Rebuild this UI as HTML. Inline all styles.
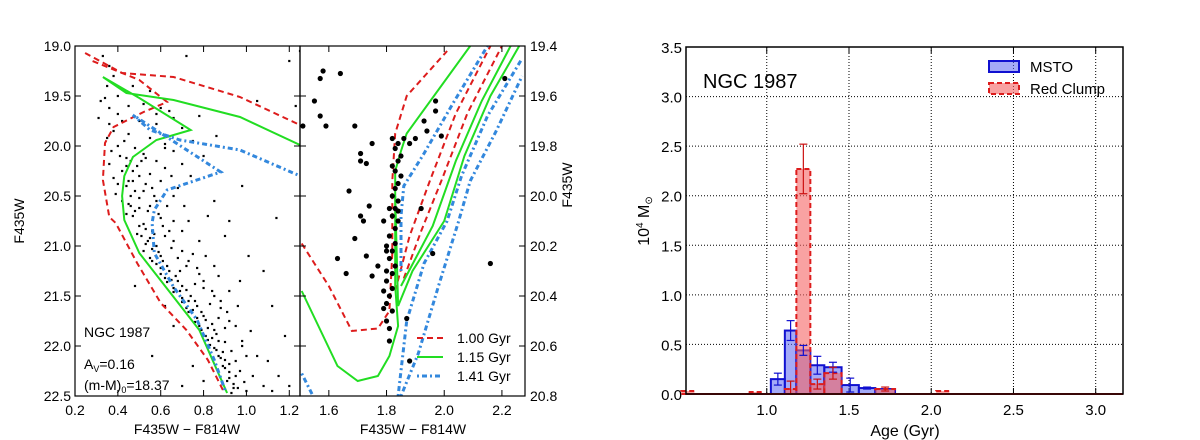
<!DOCTYPE html>
<html><head><meta charset="utf-8"><style>
body{margin:0;background:#fff;}
svg{display:block;font-family:"Liberation Sans","DejaVu Sans",sans-serif;}
</style></head><body>
<svg id="fig" width="1200" height="440" viewBox="0 0 1200 440" xmlns="http://www.w3.org/2000/svg"></svg>
<script>
// ---------- Panel 1 data (color, magnitude) ----------
const p1Red1=[[0.247,19.07],[0.42,19.27],[0.66,19.31],[0.97,19.51],[1.25,19.79]];
const p1Red2=[[0.89,22.44],[0.82,22.14],[0.72,21.84],[0.60,21.57],[0.49,21.17],[0.39,20.77],[0.36,20.71],[0.33,20.34],[0.34,19.97],[0.38,19.81],[0.52,19.66],[0.63,19.56],[0.50,19.34],[0.27,19.14]];
const p1Green=[[0.91,22.47],[0.78,21.84],[0.66,21.51],[0.50,21.07],[0.43,20.74],[0.42,20.5],[0.43,20.3],[0.47,20.11],[0.58,19.94],[0.74,19.84],[0.50,19.52],[0.33,19.31],[0.44,19.47],[0.66,19.54],[0.97,19.71],[1.25,19.99]];
const p1Blue=[[0.90,22.44],[0.85,22.14],[0.77,21.74],[0.66,21.41],[0.57,21.07],[0.56,20.77],[0.57,20.64],[0.63,20.44],[0.88,20.26],[0.47,19.69],[0.55,19.84],[0.69,19.94],[0.97,20.04],[1.24,20.29]];
const p1Stars=[[0.33,19.1],[0.36,19.2],[0.38,19.3],[0.34,19.52],[0.4,19.5],[0.45,19.6],[0.52,19.58],[0.36,19.62],[0.31,19.72],[0.42,19.75],[0.5,19.75],[0.58,19.78],[0.38,19.85],[0.45,19.88],[0.35,19.92],[0.55,19.92],[0.62,19.98],[0.4,20.0],[0.48,20.02],[0.37,20.05],[0.52,20.08],[0.66,20.05],[0.44,20.12],[0.58,20.15],[0.36,20.18],[0.49,20.2],[0.62,20.22],[0.42,20.25],[0.55,20.28],[0.38,20.32],[0.47,20.35],[0.6,20.35],[0.44,20.4],[0.52,20.45],[0.68,20.42],[0.39,20.48],[0.5,20.52],[0.58,20.55],[0.45,20.58],[0.63,20.6],[0.54,20.65],[0.47,20.7],[0.6,20.72],[0.52,20.78],[0.66,20.75],[0.56,20.85],[0.49,20.88],[0.62,20.9],[0.7,20.85],[0.54,20.95],[0.58,21.0],[0.65,21.02],[0.52,21.05],[0.6,21.1],[0.68,21.12],[0.75,21.08],[0.56,21.15],[0.63,21.2],[0.72,21.2],[0.6,21.28],[0.67,21.3],[0.78,21.28],[0.63,21.36],[0.7,21.4],[0.8,21.42],[0.66,21.46],[0.74,21.5],[0.85,21.5],[0.7,21.56],[0.77,21.6],[0.88,21.62],[0.73,21.66],[0.8,21.7],[0.76,21.76],[0.84,21.78],[0.92,21.75],[0.79,21.84],[0.86,21.88],[0.82,21.94],[0.9,21.96],[0.85,22.02],[0.93,22.05],[0.88,22.12],[0.95,22.15],[0.9,22.22],[0.97,22.25],[0.92,22.32],[0.99,22.36],[0.94,22.42],[1.0,22.45],[0.87,21.3],[0.92,21.45],[0.96,21.6],[1.02,21.85],[1.1,22.15],[1.15,22.3],[1.05,22.1],[0.74,20.3],[0.82,20.7],[0.9,20.9],[0.97,21.35],[1.08,21.25],[1.2,22.4],[1.12,22.45],[0.78,19.7],[0.86,19.9],[1.05,19.55],[1.2,19.15],[0.72,19.1],[0.98,20.4],[0.56,22.1],[0.7,22.4],[0.48,21.4],[0.62,20.02],[0.71,20.6],[0.81,21.1],[0.43,19.95],[0.53,20.38],[0.64,20.85],[0.69,21.25],[0.76,21.38],[0.83,21.58],[0.87,21.72],[0.9,21.82],
[0.5,20.8],[0.53,20.83],[0.51,20.9],[0.55,20.92],[0.57,20.88],[0.53,20.98],[0.56,21.03],[0.59,21.06],[0.55,21.12],[0.58,21.18],[0.61,21.15],[0.6,21.22],[0.64,21.25],[0.62,21.32],[0.65,21.34],[0.68,21.35],[0.66,21.42],[0.69,21.45],[0.72,21.44],[0.7,21.52],[0.73,21.55],[0.76,21.55],[0.72,21.62],[0.75,21.64],[0.79,21.66],[0.77,21.72],[0.81,21.74],[0.78,21.8],[0.82,21.82],[0.85,21.84],[0.81,21.9],[0.84,21.92],[0.87,21.95],[0.83,21.99],[0.86,22.04],[0.89,22.06],[0.87,22.1],[0.9,22.14],[0.92,22.18],[0.89,22.2],[0.92,22.26],[0.95,22.3],[0.91,22.35],[0.94,22.38],[0.96,22.42],[0.93,22.47],[0.46,20.6],[0.48,20.65],[0.44,20.68],[0.5,20.62],[0.46,20.5],[0.48,20.45],[0.45,20.35],[0.5,20.3],[0.47,20.25],[0.51,20.15],[0.46,20.15],[0.53,20.12],[0.41,20.1],[0.44,20.2],[0.4,20.38],[0.42,20.55],[0.56,20.42],[0.57,20.5],[0.55,20.6],[0.59,20.68],[0.61,20.8],[0.66,20.95],[0.7,21.05],[0.73,21.15],[0.77,21.22],[0.8,21.35],[0.84,21.45],[0.88,21.55],[0.91,21.66],[0.95,21.8],[0.98,21.95],[1.0,22.1],[1.03,22.3],[0.6,19.62],[0.66,19.72],[0.7,19.82],[0.75,19.95],[0.8,20.1],[0.85,20.55],[0.92,20.75],[1.01,21.1],[1.12,21.6],[1.18,21.9],[0.35,19.4],[0.32,19.55],[0.4,19.68],[0.36,19.78],[0.47,19.4],[0.55,19.45],[0.64,19.65],[0.58,19.68],[0.65,20.3],[0.7,20.18],[0.66,20.5],[0.73,20.75],[0.78,20.95],[0.85,21.2],[0.75,22.2],[0.8,22.35],[0.62,21.6],[0.66,21.8],[1.25,19.05],[1.23,19.6],[1.14,20.72],[0.98,22.0],[1.08,22.4]];
// ---------- Panel 2 data ----------
const p2Red1=[[1.506,20.19],[1.60,20.36],[1.68,20.54],[1.77,20.53],[1.81,20.46],[1.82,20.23],[1.82,19.94],[1.83,19.75],[1.87,19.60],[2.01,19.42]];
const p2Red2=[[1.83,20.38],[1.88,20.16],[1.95,19.94],[2.04,19.67],[2.16,19.40]];
const p2Red3=[[1.86,20.33],[1.92,20.14],[1.99,19.94],[2.08,19.67],[2.20,19.40]];
const p2Green1=[[1.506,20.38],[1.63,20.68],[1.70,20.74],[1.77,20.72],[1.81,20.64],[1.84,20.52],[1.83,20.36],[1.83,19.90],[1.85,19.82],[1.87,19.75],[2.09,19.40]];
const p2Green2=[[1.83,20.0],[1.84,20.44],[1.89,20.30],[2.0,20.10],[2.07,19.84],[2.16,19.60],[2.26,19.40]];
const p2Green3=[[1.85,20.36],[1.96,20.12],[2.04,19.86],[2.13,19.62],[2.23,19.40]];
const p2Blue1=[[1.506,20.71],[1.545,20.80]];
const p2Blue2=[[1.84,20.80],[1.87,20.5],[1.93,20.27],[2.01,20.10],[2.06,19.92],[2.15,19.68],[2.27,19.45]];
const p2Blue3=[[1.85,20.30],[1.85,20.08],[1.86,19.96],[1.93,19.83],[2.03,19.63],[2.15,19.40]];
const p2Blue4=[[1.85,20.80],[1.91,20.63],[1.98,20.36],[2.05,20.10],[2.09,19.94],[2.18,19.74],[2.27,19.52]];
const p2Stars=[[1.58,19.5],[1.57,19.53],[1.55,19.62],[1.64,19.51],[1.57,19.68],[1.59,19.72],[1.51,19.72],[1.69,19.72],[1.75,19.79],[1.71,19.83],[1.71,19.86],[1.73,19.87],[1.67,19.98],[1.74,20.04],[1.71,20.08],[1.72,20.1],[1.69,20.17],[1.63,20.25],[1.73,20.24],[1.66,20.31],[1.75,20.32],[1.77,20.28],[1.79,20.1],[1.8,20.22],[1.79,20.45],[1.81,20.58],[1.87,20.49],[1.92,20.05],[1.96,20.23],[2.16,20.27],[2.29,20.61],[2.21,19.53],[1.97,19.66],[1.97,19.62],[1.93,19.7],[1.99,19.76],[1.9,19.77],[1.86,19.77],[1.94,19.74],[1.88,19.79],[1.84,20.06],[1.88,20.66],
[1.82,19.77],[1.84,19.79],[1.83,19.81],[1.85,19.84],[1.84,19.86],[1.82,19.88],[1.83,19.9],[1.85,19.92],[1.84,19.95],[1.83,19.97],[1.82,20.0],[1.84,20.02],[1.83,20.05],[1.82,20.08],[1.84,20.1],[1.83,20.13],[1.81,20.16],[1.83,20.19],[1.82,20.22],[1.81,20.25],[1.83,20.28],[1.82,20.31],[1.8,20.34],[1.82,20.37],[1.81,20.4],[1.8,20.43],[1.82,20.46],[1.8,20.5],[1.81,20.53],[1.79,20.38],[1.8,20.3],[1.8,20.2],[1.81,20.05]];
// ---------- Histogram data ----------
const binEdges=[1.025,1.11,1.18,1.265,1.35,1.455,1.56,1.66,1.78];
const mstoVals=[0.15,0.64,0.44,0.29,0.27,0.09,0.06,0.05];
const mstoErr=[0.06,0.1,0.05,0.09,0.05,0.07,0.01,0.0];
const rcVals=[0.0,0.05,2.27,0.10,0.21,0.0,0.0,0.05];
const rcErr=[0.0,0.08,0.25,0.05,0.06,0.0,0.0,0.02];
const rcExtraAges=[0.52,0.93,2.07];
const rcExtraVals=[0.03,0.02,0.03];
const xTicksR=[1.0,1.5,2.0,2.5,3.0];
const yTicksR=[0.0,0.5,1.0,1.5,2.0,2.5,3.0,3.5];

const NS="http://www.w3.org/2000/svg";
const svg=document.getElementById('fig');
function mk(tag,attrs,parent){const e=document.createElementNS(NS,tag);for(const k in attrs)e.setAttribute(k,attrs[k]);(parent||svg).appendChild(e);return e;}
function txt(s,x,y,size,anchor,parent,extra){const t=mk('text',Object.assign({x:x,y:y,'font-size':size,'text-anchor':anchor||'middle',fill:'#000'},extra||{}),parent);t.textContent=s;return t;}
function scaler(d0,d1,p0,p1){return v=>p0+(v-d0)*(p1-p0)/(d1-d0);}

// ===== Panel 1 =====
const P1={x0:75,x1:300,y0:46,y1:396};
const sx1=scaler(0.2,1.25,P1.x0,P1.x1), sy1=scaler(19.0,22.5,P1.y0,P1.y1);
const g1=mk('g',{});


const cp1=mk('clipPath',{id:'c1'});mk('rect',{x:P1.x0,y:P1.y0,width:P1.x1-P1.x0,height:P1.y1-P1.y0},cp1);
const g1c=mk('g',{'clip-path':'url(#c1)'},g1);
p1Stars.forEach(p=>{const r=mk('rect',{x:sx1(p[0])-1.1,y:sy1(p[1])-1.1,width:2.2,height:2.2,fill:'#000'},g1c);

});
function iso(pts,sx,sy,style,parent,name){const d=pts.map((p,i)=>(i?'L':'M')+sx(p[0]).toFixed(1)+','+sy(p[1]).toFixed(1)).join('');
const e=mk('path',Object.assign({d:d,fill:'none'},style),parent);

return e;}
const RED={stroke:'#dd1c1c','stroke-width':2,'stroke-dasharray':'6,4'};
const GRN={stroke:'#22dd22','stroke-width':2};
const BLU={stroke:'#3388dd','stroke-width':3,'stroke-dasharray':'2,3,5,3'};
iso(p1Red1,sx1,sy1,RED,g1c,'isochrone-1.00-gyr');
iso(p1Red2,sx1,sy1,RED,g1c,'isochrone-1.00-gyr');
iso(p1Green,sx1,sy1,GRN,g1c,'isochrone-1.15-gyr');
iso(p1Blue,sx1,sy1,BLU,g1c,'isochrone-1.41-gyr');

// ===== Panel 2 =====
const P2={x0:300,x1:525,y0:46,y1:396};
const sx2=scaler(1.5,2.28,P2.x0,P2.x1), sy2=scaler(19.4,20.8,P2.y0,P2.y1);
const g2=mk('g',{});


const cp2=mk('clipPath',{id:'c2'});mk('rect',{x:P2.x0,y:P2.y0,width:P2.x1-P2.x0,height:P2.y1-P2.y0},cp2);
const g2c=mk('g',{'clip-path':'url(#c2)'},g2);
iso(p2Red1,sx2,sy2,RED,g2c,'isochrone-1.00-gyr');
iso(p2Red2,sx2,sy2,RED,g2c,'isochrone-1.00-gyr');
iso(p2Red3,sx2,sy2,RED,g2c,'isochrone-1.00-gyr');
iso(p2Green1,sx2,sy2,GRN,g2c,'isochrone-1.15-gyr');
iso(p2Green2,sx2,sy2,GRN,g2c,'isochrone-1.15-gyr');
iso(p2Green3,sx2,sy2,GRN,g2c,'isochrone-1.15-gyr');
iso(p2Blue1,sx2,sy2,BLU,g2c,'isochrone-1.41-gyr');
iso(p2Blue2,sx2,sy2,BLU,g2c,'isochrone-1.41-gyr');
iso(p2Blue3,sx2,sy2,BLU,g2c,'isochrone-1.41-gyr');
iso(p2Blue4,sx2,sy2,BLU,g2c,'isochrone-1.41-gyr');
p2Stars.forEach(p=>{const c=mk('circle',{cx:sx2(p[0]),cy:sy2(p[1]),r:2.6,fill:'#000'},g2c);

});

function frame(P,parent){mk('rect',{x:P.x0,y:P.y0,width:P.x1-P.x0,height:P.y1-P.y0,fill:'none',stroke:'#000','stroke-width':1.2},parent);}
frame(P1,g1);frame(P2,g2);
[0.2,0.4,0.6,0.8,1.0,1.2].forEach(v=>{const x=sx1(v);mk('line',{x1:x,x2:x,y1:P1.y1,y2:P1.y1-6,stroke:'#000'},g1);mk('line',{x1:x,x2:x,y1:P1.y0,y2:P1.y0+6,stroke:'#000'},g1);
const t=txt(v.toFixed(1),x,415,14,'middle',g1);});
[19.0,19.5,20.0,20.5,21.0,21.5,22.0,22.5].forEach(v=>{const y=sy1(v);mk('line',{x1:P1.x0,x2:P1.x0+6,y1:y,y2:y,stroke:'#000'},g1);mk('line',{x1:P1.x1,x2:P1.x1-6,y1:y,y2:y,stroke:'#000'},g1);
const t=txt(v.toFixed(1),71,y+5,14,'end',g1);});
[1.6,1.8,2.0,2.2].forEach(v=>{const x=sx2(v);mk('line',{x1:x,x2:x,y1:P2.y1,y2:P2.y1-6,stroke:'#000'},g2);mk('line',{x1:x,x2:x,y1:P2.y0,y2:P2.y0+6,stroke:'#000'},g2);
const t=txt(v.toFixed(1),x,415,14,'middle',g2);});
[19.4,19.6,19.8,20.0,20.2,20.4,20.6,20.8].forEach(v=>{const y=sy2(v);mk('line',{x1:P2.x0,x2:P2.x0+6,y1:y,y2:y,stroke:'#000'},g2);mk('line',{x1:P2.x1,x2:P2.x1-6,y1:y,y2:y,stroke:'#000'},g2);
const t=txt(v.toFixed(1),530,y+5,14,'start',g2);});
</script>
<script>
(function(){
const NS="http://www.w3.org/2000/svg",svg=document.getElementById('fig');
function t(s,x,y,size,anchor,rot,name){const e=document.createElementNS(NS,'text');e.setAttribute('x',x);e.setAttribute('y',y);e.setAttribute('font-size',size);e.setAttribute('text-anchor',anchor);if(rot)e.setAttribute('transform','rotate('+rot+' '+x+' '+y+')');e.innerHTML=s;

svg.appendChild(e);return e;}
t('F435W',24,221,14,'middle',-90,'y-axis-title-left');
t('F435W',572,185,14,'middle',-90,'y-axis-title-right');
t('F435W − F814W',187,434,14,'middle',0,'x-axis-title-left');
t('F435W − F814W',413,434,14,'middle',0,'x-axis-title-right');
t('NGC 1987',84,337,14,'start',0,'cluster-label');
t('A<tspan font-size="9" dy="3">V</tspan><tspan dy="-3">=0.16</tspan>',84,369,14,'start',0,'extinction-label');
t('(m-M)<tspan font-size="9" dy="3">0</tspan><tspan dy="-3">=18.37</tspan>',84,390,14,'start',0,'distance-modulus-label');
const leg=[['1.00 Gyr','#dd1c1c','6,4',2,338],['1.15 Gyr','#22dd22','',2,357],['1.41 Gyr','#3388dd','2,3,5,3',3,376]];
leg.forEach(l=>{const ln=document.createElementNS(NS,'line');ln.setAttribute('x1',417);ln.setAttribute('x2',443);ln.setAttribute('y1',l[4]);ln.setAttribute('y2',l[4]);ln.setAttribute('stroke',l[1]);ln.setAttribute('stroke-width',l[3]);if(l[2])ln.setAttribute('stroke-dasharray',l[2]);

svg.appendChild(ln);
t(l[0],457,l[4]+5,14,'start',0,'legend-entry');});
})();
</script>
<script>
(function(){
const NS="http://www.w3.org/2000/svg",svg=document.getElementById('fig');
function mk(tag,a,p){const e=document.createElementNS(NS,tag);for(const k in a)e.setAttribute(k,a[k]);(p||svg).appendChild(e);return e;}
const R={x0:686,x1:1123,y0:47,y1:394};
const sx=v=>R.x0+(v-0.509)*(R.x1-R.x0)/(3.166-0.509);
const sy=v=>R.y1-v*(R.y1-R.y0)/3.5;
const g=mk('g',{});


xTicksR.forEach(v=>{const x=sx(v);const l=mk('line',{x1:x,x2:x,y1:R.y0,y2:R.y1,stroke:'#000','stroke-width':1,'stroke-dasharray':'1,2'},g);


mk('line',{x1:x,x2:x,y1:R.y1,y2:R.y1-6,stroke:'#000'},g);mk('line',{x1:x,x2:x,y1:R.y0,y2:R.y0+6,stroke:'#000'},g);
const t=mk('text',{x:x,y:415,'font-size':15,'text-anchor':'middle'},g);t.textContent=v.toFixed(1);

});
yTicksR.forEach(v=>{const y=sy(v);const l=mk('line',{x1:R.x0,x2:R.x1,y1:y,y2:y,stroke:'#000','stroke-width':1,'stroke-dasharray':'1,2'},g);


const t=mk('text',{x:682,y:y+6,'font-size':15,'text-anchor':'end'},g);t.textContent=v.toFixed(1);

});
mstoVals.forEach((v,i)=>{const x=sx(binEdges[i]),w=sx(binEdges[i+1])-x;
const r=mk('rect',{x:x,y:sy(v),width:w,height:sy(0)-sy(v),fill:'rgba(90,100,240,0.55)',stroke:'#1010d0','stroke-width':2},g);

});
rcVals.forEach((v,i)=>{if(v<=0)return;const x=sx(binEdges[i]),w=sx(binEdges[i+1])-x;
const r=mk('rect',{x:x,y:sy(v),width:w,height:sy(0)-sy(v),fill:'rgba(245,100,100,0.6)',stroke:'#dd1c1c','stroke-width':2,'stroke-dasharray':'5,3'},g);

});
rcExtraAges.forEach((a,i)=>{const x=sx(a-0.04),w=sx(a+0.04)-x,v=rcExtraVals[i];
const r=mk('rect',{x:x,y:sy(v),width:w,height:sy(0)-sy(v),fill:'rgba(245,100,100,0.6)',stroke:'#dd1c1c','stroke-width':2,'stroke-dasharray':'5,3'},g);

});
function eb(vals,errs,col,name){vals.forEach((v,i)=>{if(!errs[i])return;const c=sx((binEdges[i]+binEdges[i+1])/2);
const e=mk('g',{stroke:col,'stroke-width':1.2},g);


mk('line',{x1:c,x2:c,y1:sy(v+errs[i]),y2:sy(Math.max(0,v-errs[i]))},e);
mk('line',{x1:c-4,x2:c+4,y1:sy(v+errs[i]),y2:sy(v+errs[i])},e);
mk('line',{x1:c-4,x2:c+4,y1:sy(Math.max(0,v-errs[i])),y2:sy(Math.max(0,v-errs[i]))},e);});}
eb(mstoVals,mstoErr,'#1010d0','msto-error-bar');
eb(rcVals,rcErr,'#cc1010','red-clump-error-bar');
mk('line',{x1:R.x0,x2:R.x1,y1:R.y1,y2:R.y1,stroke:'#dd1c1c','stroke-width':2},g);
mk('rect',{x:R.x0,y:R.y0,width:R.x1-R.x0,height:R.y1-R.y0,fill:'none',stroke:'#000','stroke-width':1.5},g);
function t(s,x,y,size,anchor,rot,name){const e=mk('text',{x:x,y:y,'font-size':size,'text-anchor':anchor},g);if(rot)e.setAttribute('transform','rotate('+rot+' '+x+' '+y+')');e.innerHTML=s;

return e;}
t('Age (Gyr)',905,436,16,'middle',0,'x-axis-title');
t('10<tspan font-size="10" dy="-6">4</tspan><tspan dy="6"> M</tspan><tspan font-size="10" dy="3">⊙</tspan>',649,221,16,'middle',-90,'y-axis-title');
t('NGC 1987',703,88,20,'start',0,'cluster-label');
const l1=mk('rect',{x:989,y:61,width:30,height:11,fill:'rgba(90,100,240,0.55)',stroke:'#1010d0','stroke-width':2},g);


const l2=mk('rect',{x:989,y:83,width:30,height:11,fill:'rgba(245,100,100,0.6)',stroke:'#dd1c1c','stroke-width':2,'stroke-dasharray':'5,3'},g);


t('MSTO',1030,72,15,'start',0,'legend-entry');
t('Red Clump',1030,94,15,'start',0,'legend-entry');
})();
</script>
</body></html>
